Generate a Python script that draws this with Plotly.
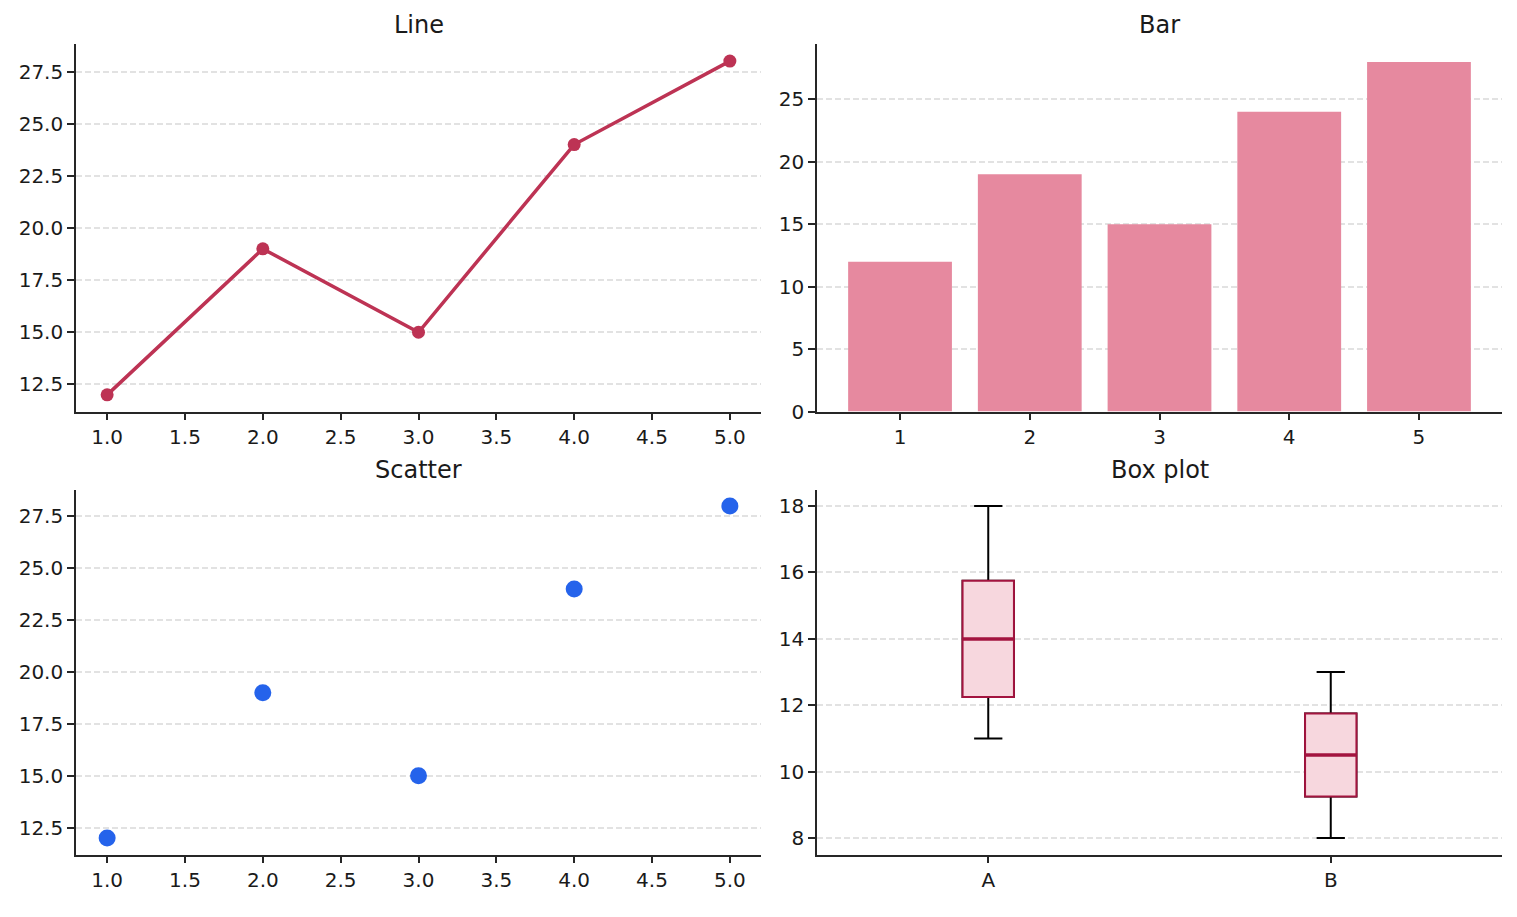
import numpy as np
import plotly.graph_objects as go

x_vals = [1, 2, 3, 4, 5]
y_vals = [12, 19, 15, 24, 28]
box_labels = ["A", "B"]
box_a = [11, 12, 13, 15, 16, 18]
box_b = [8, 9, 10, 11, 12, 13]

FONT = "DejaVu Sans"
LINE_C = "#bd3354"
BAR_C = "#e6899f"
SCAT_C = "#2563eb"
BOX_EDGE = "#a3143f"
BOX_FILL = "#f7d7de"
TXT = "#1a1a1a"

fig = go.Figure()

# Line
fig.add_trace(go.Scatter(x=x_vals, y=y_vals, mode="lines+markers",
                         line=dict(color=LINE_C, width=3.5),
                         marker=dict(color=LINE_C, size=13),
                         xaxis="x", yaxis="y", showlegend=False))
# Bar
fig.add_trace(go.Bar(x=x_vals, y=y_vals, width=0.8, marker=dict(color=BAR_C, line=dict(width=0)),
                     xaxis="x2", yaxis="y2", showlegend=False))
# Scatter
fig.add_trace(go.Scatter(x=x_vals, y=y_vals, mode="markers",
                         marker=dict(color=SCAT_C, size=17),
                         xaxis="x3", yaxis="y3", showlegend=False))

# Box plot stats
pos = [0, 1]
stats = []
for d in (box_a, box_b):
    arr = np.array(d, dtype=float)
    stats.append(dict(q1=np.percentile(arr, 25), med=np.percentile(arr, 50),
                      q3=np.percentile(arr, 75), lo=arr.min(), hi=arr.max()))
bw = 0.15
fig.add_trace(go.Box(x=pos, q1=[s["q1"] for s in stats], median=[s["med"] for s in stats],
                     q3=[s["q3"] for s in stats], lowerfence=[s["lo"] for s in stats],
                     upperfence=[s["hi"] for s in stats], width=bw, whiskerwidth=0.55,
                     line=dict(color="black", width=2), fillcolor="white",
                     xaxis="x4", yaxis="y4", showlegend=False, hoverinfo="skip"))
fig.add_trace(go.Box(x=pos, q1=[s["q1"] for s in stats], median=[s["med"] for s in stats],
                     q3=[s["q3"] for s in stats], lowerfence=[s["q1"] for s in stats],
                     upperfence=[s["q3"] for s in stats], width=bw, whiskerwidth=0,
                     line=dict(color=BOX_EDGE, width=2), fillcolor=BOX_FILL,
                     xaxis="x4", yaxis="y4", showlegend=False))
mx, my = [], []
for p, s in zip(pos, stats):
    mx += [p - bw / 2, p + bw / 2, None]
    my += [s["med"], s["med"], None]
fig.add_trace(go.Scatter(x=mx, y=my, mode="lines", line=dict(color=BOX_EDGE, width=3.5),
                         xaxis="x4", yaxis="y4", showlegend=False, hoverinfo="skip"))

W, H = 1517, 917
L1, R1 = 76 / W, 761 / W
L2, R2 = 817 / W, 1502 / W
T1 = [1 - 417 / H, 1 - 45 / H]
T2 = [1 - 866 / H, 1 - 496 / H]

common = dict(showline=True, linecolor="#262626", linewidth=1.6, ticks="outside",
              ticklen=7, tickwidth=1.6, tickcolor="#262626", mirror=False,
              tickfont=dict(family=FONT, size=20, color=TXT), zeroline=False)
xcommon = dict(common, showgrid=False)
ycommon = dict(common, showgrid=True, gridcolor="#e2e2e2", gridwidth=1.5, griddash="6px,3px")

fig.update_layout(
    width=W, height=H, margin=dict(l=0, r=0, t=0, b=0),
    plot_bgcolor="white", paper_bgcolor="white", boxmode="overlay",
    font=dict(family=FONT),
    xaxis=dict(xcommon, domain=[L1, R1], anchor="y", range=[0.8, 5.2], dtick=0.5, tickformat=".1f"),
    yaxis=dict(ycommon, domain=T1, anchor="x", range=[11.2, 28.8], dtick=2.5, tick0=0, tickformat=".1f"),
    xaxis2=dict(xcommon, domain=[L2, R2], anchor="y2", range=[0.36, 5.64], tickvals=x_vals),
    yaxis2=dict(ycommon, domain=T1, anchor="x2", range=[0, 29.4], dtick=5),
    xaxis3=dict(xcommon, domain=[L1, R1], anchor="y3", range=[0.8, 5.2], dtick=0.5, tickformat=".1f"),
    yaxis3=dict(ycommon, domain=T2, anchor="x3", range=[11.2, 28.8], dtick=2.5, tick0=0, tickformat=".1f"),
    xaxis4=dict(xcommon, domain=[L2, R2], anchor="y4", range=[-0.5, 1.5], tickvals=pos, ticktext=box_labels),
    yaxis4=dict(ycommon, domain=T2, anchor="x4", range=[7.5, 18.5], dtick=2),
)

titles = [("Line", (L1 + R1) / 2, 25), ("Bar", (L2 + R2) / 2, 25),
          ("Scatter", (L1 + R1) / 2, 476), ("Box plot", (L2 + R2) / 2, 476)]
for t, xc, yp in titles:
    fig.add_annotation(text=t, x=xc, y=1 - yp / H, xref="paper", yref="paper",
                       showarrow=False, xanchor="center", yanchor="middle",
                       font=dict(family=FONT, size=24, color=TXT))

fig.write_html("out.html")
